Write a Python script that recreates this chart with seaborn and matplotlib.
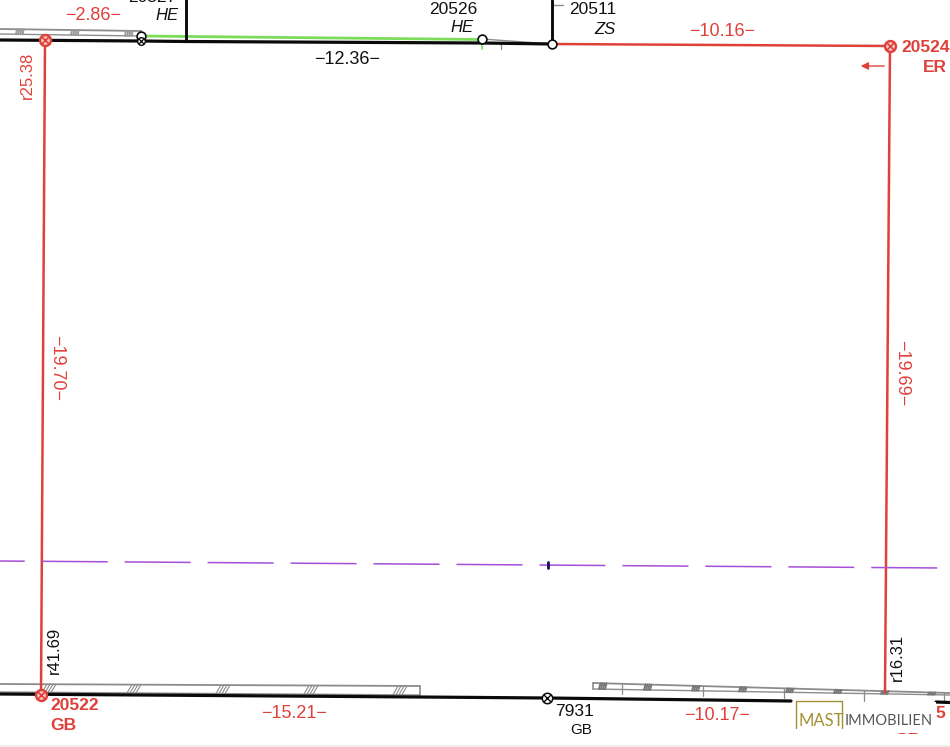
import matplotlib
matplotlib.use("Agg")
import matplotlib.pyplot as plt
from matplotlib.patches import Rectangle
import seaborn as sns

# Boundary lines (image pixels)
top_black_x = [0, 140, 186, 482, 552]
top_black_y = [40, 41, 41.5, 43, 44]
bottom_black_x = [0, 420, 547, 791]
bottom_black_y = [694, 697, 698, 701]
bottom_black2_x = [936, 950]
bottom_black2_y = [702, 702.5]
post_x = [186, 552]
post_top = [0, 0]
post_bottom = [41, 44]
green_x = [140, 482]
green_y = [36, 39.5]
red_top_x = [552, 890]
red_top_y = [44, 46]
red_left_x = [45, 41]
red_left_y = [40, 695]
red_right_x = [890, 885]
red_right_y = [46, 692]
purple_x = [0, 940]
purple_y = [561, 568]

# Nodes
open_x = [141, 482, 552]
open_y = [36, 39, 44]
red_node_x = [45, 41, 890]
red_node_y = [40, 695, 46]

# Hatched strips: (x start, y start, x end, y end)
strip_left_top = [0, 29, 141, 31]
strip_left_low = [0, 34, 141, 36]
strip_bot_top = [0, 684, 420, 686]
strip_bot_low = [0, 692, 420, 695]
strip_right_top = [593, 683, 950, 693]
strip_right_low = [593, 689, 950, 695]
hatch_top_x = [20, 75, 129]
hatch_bot_x = [50, 135, 224, 312, 401]
hatch_right_x = [603, 648, 696, 743, 790, 838, 885, 932]
tick_right_x = [622, 703, 784, 864, 944]

# Labels
red_labels = ["−2.86−", "−10.16−", "−15.21−", "−10.17−"]
red_labels_x = [93, 722, 294, 717]
red_labels_y = [16, 32, 713, 716]
black_labels = ["20526", "20511", "7931", "20527"]
black_labels_x = [453, 593, 575, 152]
black_labels_y = [9.5, 9.5, 711, -2]
italic_labels = ["HE", "HE", "ZS"]
italic_labels_x = [167, 462, 605]
italic_labels_y = [15, 27, 29]
bold_labels = ["20524", "ER", "20522", "GB", "GB", "5"]
bold_labels_x = [926, 935, 75, 63, 907, 940]
bold_labels_y = [47, 67, 706, 726, 730, 714]

RED = "#e0403a"
BLACK = "#0a0a0a"
GREY = "#8c8c8c"

sns.set_theme(style="white")
plt.rcParams["font.family"] = ["Liberation Sans", "DejaVu Sans"]

fig = plt.figure(figsize=(9.5, 7.47), dpi=100)
ax = fig.add_axes([0, 0, 1, 1])


def line(xs, ys, color, lw, **kw):
    sns.lineplot(x=xs, y=ys, sort=False, estimator=None, color=color,
                 linewidth=lw, ax=ax, legend=False, **kw)


def strip_y(strip, x):
    return strip[1] + (strip[3] - strip[1]) * (x - strip[0]) / (strip[2] - strip[0])


# Hatched strips
for top, low in [(strip_left_top, strip_left_low), (strip_bot_top, strip_bot_low),
                 (strip_right_top, strip_right_low)]:
    line([top[0], top[2]], [top[1], top[3]], GREY, 1.3)
    line([low[0], low[2]], [low[1], low[3]], GREY, 1.0)
    if top[0] > 0 or top[2] < 950:
        end = top[0] if top[0] > 0 else top[2]
        line([end, end], [strip_y(top, end), strip_y(low, end)], GREY, 1.2)

for hx in hatch_top_x:
    for k in range(4):
        x = hx - 4 + k * 2.2
        line([x, x + 1], [strip_y(strip_left_low, x), strip_y(strip_left_top, x)], "#999999", 1.4)
for hx in hatch_bot_x:
    for k in range(4):
        x = hx - 8 + k * 3
        line([x, x + 5], [strip_y(strip_bot_low, x), strip_y(strip_bot_top, x)], GREY, 0.8)
for hx in hatch_right_x:
    for k in range(4):
        x = hx - 4 + k * 2
        line([x, x + 1.5], [strip_y(strip_right_low, x), strip_y(strip_right_top, x)], "#777777", 1.4)
for tx in tick_right_x:
    y0 = strip_y(strip_right_top, tx)
    line([tx, tx], [y0, y0 + 10], GREY, 0.9)

# Small leaders around the corner post
line([482, 552], [39, 44], GREY, 1.0)
line([553, 563], [5, 5], GREY, 1.0)
line([501, 501], [43, 49], GREY, 0.9)
line([482, 482], [42, 49], "#7ddc5a", 1.2)

# Boundaries
line(green_x, green_y, "#7ddc5a", 2.0)
line(top_black_x, top_black_y, BLACK, 2.3)
line(bottom_black_x, bottom_black_y, BLACK, 2.3)
line(bottom_black2_x, bottom_black2_y, BLACK, 2.3)
for i in range(len(post_x)):
    line([post_x[i], post_x[i]], [post_top[i], post_bottom[i]], BLACK, 2.1)
line(red_top_x, red_top_y, RED, 1.8)
line(red_left_x, red_left_y, RED, 1.8)
line(red_right_x, red_right_y, RED, 1.8)

# Long dashed line: 66 px on, 17 px off
sns.lineplot(x=purple_x, y=purple_y, sort=False, estimator=None, color="#a64fd8",
             linewidth=1.1, ax=ax, legend=False, linestyle=(27, (43.2, 11.1)))
line([548, 548], [562, 568], "#1b1050", 2.0)

# Nodes
sns.scatterplot(x=open_x, y=open_y, marker="o", s=40, color="white",
                edgecolor=BLACK, linewidth=1.2, ax=ax, zorder=5, legend=False)
sns.scatterplot(x=red_node_x, y=red_node_y, marker="o", s=62, color="#f8c8c4",
                edgecolor=RED, linewidth=1.7, ax=ax, zorder=5, legend=False)
ax.scatter(red_node_x, red_node_y, marker="x", s=26, color=RED, linewidth=1.2, zorder=6)
sns.scatterplot(x=[141], y=[41], marker="o", s=30, color="white",
                edgecolor=BLACK, linewidth=1.0, ax=ax, zorder=5, legend=False)
sns.scatterplot(x=[547], y=[698], marker="o", s=56, color="white",
                edgecolor=BLACK, linewidth=1.1, ax=ax, zorder=5, legend=False)
ax.scatter([141], [41], marker="x", s=14, color=BLACK, linewidth=0.9, zorder=6)
ax.scatter([547], [698], marker="x", s=24, color=BLACK, linewidth=1.0, zorder=6)

# Direction arrow
ax.annotate("", xy=(858, 66), xytext=(887, 66),
            arrowprops=dict(arrowstyle="-|>", color=RED, lw=1.0, mutation_scale=11))

# Text
for s, x, y in zip(red_labels, red_labels_x, red_labels_y):
    ax.text(x, y, s, color=RED, fontsize=13, ha="center", va="center")
for s, x, y in zip(black_labels, black_labels_x, black_labels_y):
    ax.text(x, y, s, color="#111111", fontsize=12.5, ha="center", va="center")
ax.text(581, 730, "GB", color="#111111", fontsize=11, ha="center", va="center")
ax.text(347, 59, "−12.36−", color="#111111", fontsize=13, ha="center", va="center",
        bbox=dict(facecolor="white", edgecolor="none", pad=2), zorder=4)
for s, x, y in zip(italic_labels, italic_labels_x, italic_labels_y):
    ax.text(x, y, s, color="#111111", fontsize=12, style="italic", ha="center", va="center")
for s, x, y in zip(bold_labels, bold_labels_x, bold_labels_y):
    ax.text(x, y, s, color=RED, fontsize=12.5, fontweight="bold", ha="center", va="center")
ax.text(27, 75, "r25.38", color=RED, fontsize=12, rotation=90, ha="center", va="center")
ax.text(57, 368, "−19.70−", color=RED, fontsize=13, rotation=-90, ha="center", va="center")
ax.text(902, 373, "−19.69−", color=RED, fontsize=13, rotation=-90, ha="center", va="center")
ax.text(54, 650, "r41.69", color="#111111", fontsize=12, rotation=90, ha="center", va="center")
ax.text(897, 657, "r16.31", color="#111111", fontsize=12, rotation=90, ha="center", va="center")

# Logo over the plan
ax.add_patch(Rectangle((795, 702), 141, 31, facecolor="white", edgecolor="none", zorder=7))
gold = "#a39233"
line([796, 796, 842, 842], [728, 701, 701, 728], gold, 1.0, zorder=8)
ax.text(798, 721, "MAST", color=gold, fontsize=12, ha="left", va="center", zorder=8,
        family="Lato")
ax.text(845, 721, "IMMOBILIEN", color="#55565a", fontsize=10.5, ha="left", va="center", zorder=8,
        family="Lato")

# Faint band along the lower edge
ax.add_patch(Rectangle((0, 745), 950, 2, facecolor="#eeeeee", edgecolor="none", zorder=8))

ax.set_xlim(0, 950)
ax.set_ylim(747, 0)
ax.axis("off")
fig.savefig("out.png", dpi=100)
